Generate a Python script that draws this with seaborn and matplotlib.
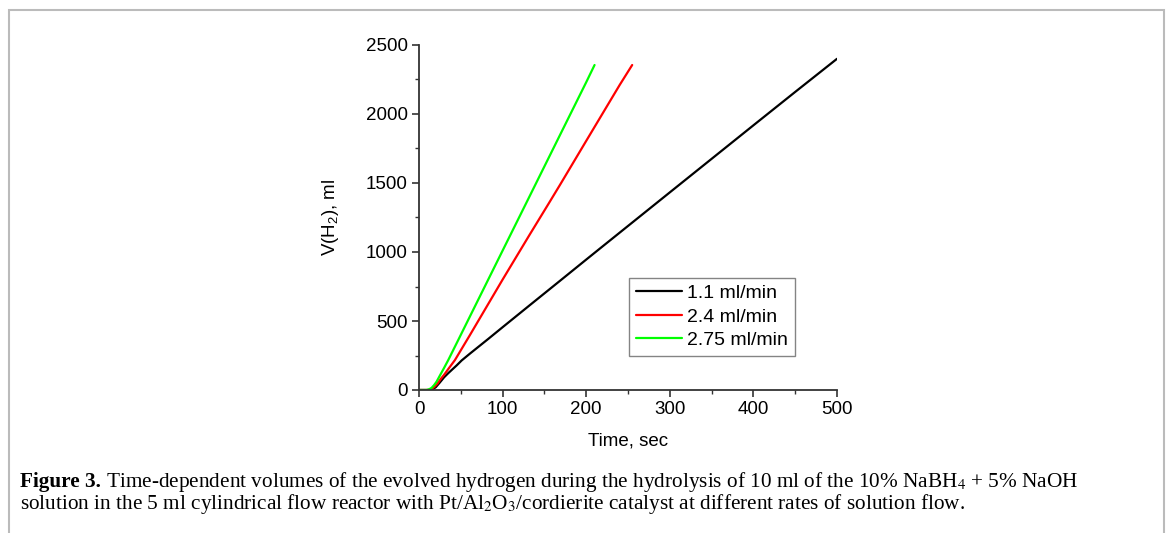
import numpy as np
import pandas as pd
import matplotlib
matplotlib.use("Agg")
import matplotlib.pyplot as plt
import seaborn as sns
from matplotlib.patches import Rectangle

# ---- data ----
series_names = ["1.1 ml/min", "2.4 ml/min", "2.75 ml/min"]
series_colors = ["#000000", "#ff0000", "#00ff00"]

black_t = [0, 10, 15, 20, 25, 30, 35, 45, 51, 61, 83, 100, 133, 169, 200, 217, 240, 300, 350, 400, 450, 500]
black_v = [0, 0, 0, 20, 55, 92, 122, 178, 214, 264, 371, 455, 617, 793, 945, 1028, 1140, 1432, 1675, 1918, 2160, 2400]

red_t = [0, 11, 14, 18, 22, 26, 30, 36, 43, 61, 100, 132, 155, 169, 200, 240, 255]
red_v = [0, 0, 5, 20, 45, 80, 110, 160, 217, 399, 800, 1122, 1350, 1490, 1805, 2210, 2355]

green_t = [0, 9, 12, 15, 18, 21, 25, 30, 35, 47, 61, 100, 131, 150, 169, 200, 210]
green_v = [0, 0, 5, 15, 35, 60, 105, 160, 217, 363, 534, 1010, 1388, 1620, 1852, 2230, 2355]

x_ticks = [0, 100, 200, 300, 400, 500]
y_ticks = [0, 500, 1000, 1500, 2000, 2500]

caption_bold = "Figure 3."
caption_line1 = " Time-dependent volumes of the evolved hydrogen during the hydrolysis of 10 ml of the 10% NaBH$_4$ + 5% NaOH"
caption_line2 = "solution in the 5 ml cylindrical flow reactor with Pt/Al$_2$O$_3$/cordierite catalyst at different rates of solution flow."

frames = []
for name, t, v in zip(series_names, [black_t, red_t, green_t], [black_v, red_v, green_v]):
    frames.append(pd.DataFrame({"Time": t, "V": v, "series": name}))
df = pd.concat(frames, ignore_index=True)

sns.set_theme(style="ticks")
plt.rcParams["font.family"] = ["Liberation Sans", "DejaVu Sans"]
plt.rcParams["mathtext.fontset"] = "custom"
plt.rcParams["mathtext.rm"] = "Liberation Sans"
plt.rcParams["mathtext.it"] = "Liberation Sans:italic"
plt.rcParams["text.color"] = "black"
plt.rcParams["axes.labelcolor"] = "black"

W, H = 1171, 533
fig = plt.figure(figsize=(W / 100, H / 100), dpi=100)
ax = fig.add_axes([419 / W, 1 - 390 / H, (837 - 419) / W, (390 - 45) / H])

sns.lineplot(data=df, x="Time", y="V", hue="series", hue_order=series_names,
             palette=series_colors, linewidth=1.6, ax=ax, sort=False, estimator=None)

ax.set_xlim(0, 500)
ax.set_ylim(0, 2500)
ax.set_xticks(x_ticks)
ax.set_yticks(y_ticks)
ax.set_xticks(np.arange(50, 500, 100), minor=True)
ax.set_yticks(np.arange(250, 2500, 500), minor=True)
ax.tick_params(axis="both", which="major", direction="out", length=5, width=1.2,
               labelsize=13.5, colors="#333333", labelcolor="black", pad=3)
ax.tick_params(axis="both", which="minor", direction="out", length=3, width=1.0, colors="#333333")
for s in ["top", "right"]:
    ax.spines[s].set_visible(False)
for s in ["left", "bottom"]:
    ax.spines[s].set_color("#333333")
    ax.spines[s].set_linewidth(1.3)

ax.set_xlabel("Time, sec", fontsize=13.5, labelpad=10, color="black")
ax.set_ylabel("V(H$_2$), ml", fontsize=13.5, labelpad=18, color="black")

leg = ax.legend(loc="upper left", bbox_to_anchor=(0.502, 0.325), fontsize=14,
                frameon=True, fancybox=False, handlelength=2.4, handletextpad=0.25,
                borderpad=0.35, labelspacing=0.3, borderaxespad=0)
leg.get_frame().set_edgecolor("#666666")
leg.get_frame().set_linewidth(1.0)
for line in leg.get_lines():
    line.set_linewidth(1.6)
for t in leg.get_texts():
    t.set_color("black")

# outer frame of the figure panel
fig.patches.append(Rectangle((9 / W, -0.1), (1164 - 9) / W, 1.1 - 10 / H,
                             transform=fig.transFigure, fill=False,
                             edgecolor="#bbbbbb", linewidth=1.5))

# caption
serif = ["Liberation Serif", "DejaVu Serif"]
cap_fs = 15.3
y1 = 1 - 487 / H
y2 = 1 - 509 / H
tb = fig.text(20 / W, y1, caption_bold, fontsize=cap_fs, fontweight="bold", family=serif,
              va="baseline", ha="left", math_fontfamily="stix", color="black")
fig.canvas.draw()
bb = tb.get_window_extent(renderer=fig.canvas.get_renderer())
fig.text(bb.x1 / W, y1, caption_line1, fontsize=cap_fs, family=serif,
         va="baseline", ha="left", math_fontfamily="stix", color="black")
fig.text(20 / W, y2, caption_line2, fontsize=cap_fs, family=serif,
         va="baseline", ha="left", math_fontfamily="stix", color="black")

fig.savefig("out.png", dpi=100)
